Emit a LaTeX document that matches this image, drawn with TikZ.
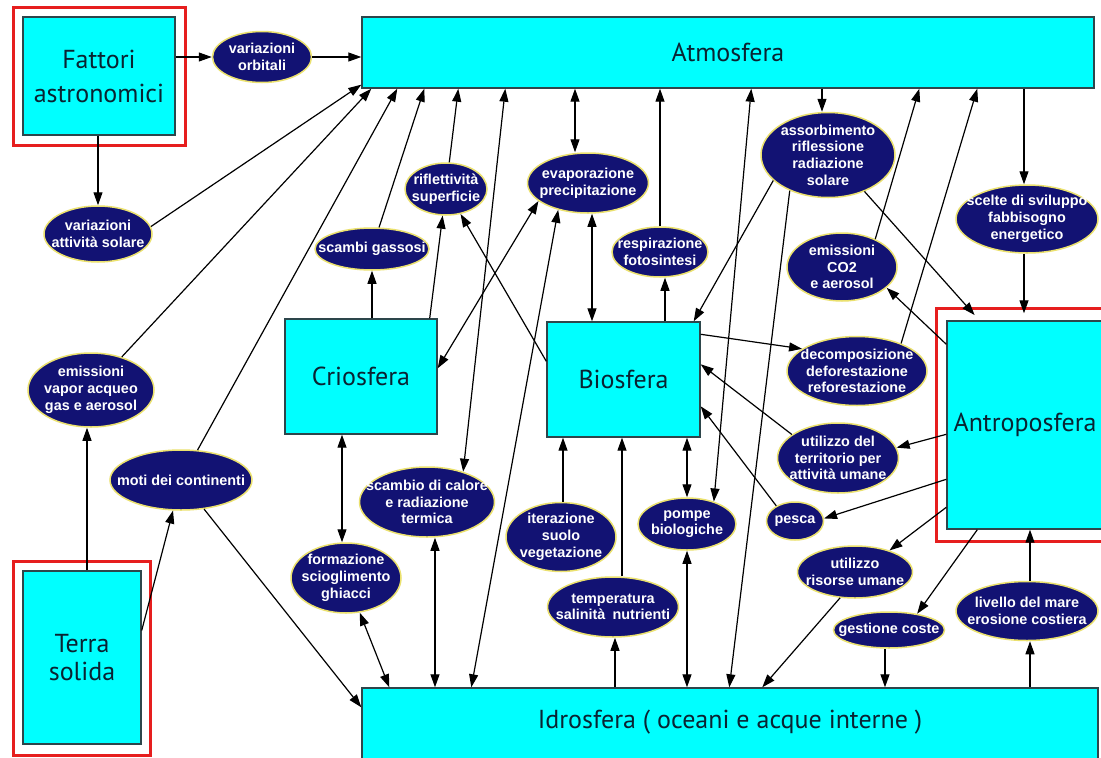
\documentclass[tikz,border=0pt]{standalone}
\usepackage{fontspec}
\setmainfont{Liberation Sans}
\newfontfamily\boxfont{PT Sans}
\usetikzlibrary{arrows.meta,shapes.geometric,calc}
\definecolor{cyanbox}{RGB}{0,255,255}
\definecolor{boxedge}{RGB}{45,70,75}
\definecolor{boxtext}{RGB}{10,35,50}
\definecolor{navyfill}{RGB}{18,18,115}
\definecolor{yel}{RGB}{235,225,110}
\definecolor{redfr}{RGB}{230,30,30}
\begin{document}
\begin{tikzpicture}[x=1pt,y=-1pt,
  sphere/.style={draw=boxedge, line width=1.4pt, fill=cyanbox, rectangle, inner sep=0pt, text=boxtext, font=\boxfont\fontsize{26}{30}\selectfont, align=center},
  redframe/.style={draw=redfr, line width=3pt, rectangle, inner sep=0pt},
  bub/.style={ellipse, draw=yel, line width=1.5pt, fill=navyfill, inner sep=0pt},
  bubtext/.style={text=white, font=\bfseries\fontsize{14.4}{16.7}\selectfont, align=center, inner sep=0pt},
  arr/.style={line width=1.2pt, -{Triangle[length=13pt,width=9pt]}},
  darr/.style={line width=1.2pt, {Triangle[length=13pt,width=9pt]}-{Triangle[length=13pt,width=9pt]}}
]
\useasboundingbox[fill=white] (0,0) rectangle (1101,758);

% red frames
\node[redframe, minimum width=172pt, minimum height=138pt] (fatR) at (99,76) {};
\node[redframe, minimum width=137pt, minimum height=194pt] (terraR) at (81.5,658) {};
\node[redframe, minimum width=178pt, minimum height=233pt] (antR) at (1025,424.5) {};

% spheres
\node[sphere, minimum width=152pt, minimum height=118pt, font=\boxfont\fontsize{26}{34}\selectfont] (fat) at (99,76) {Fattori\\astronomici};
\node[sphere, minimum width=732pt, minimum height=71pt] (atm) at (728,52.5) {Atmosfera};
\node[sphere, minimum width=152pt, minimum height=115pt] (crio) at (361,376.5) {Criosfera};
\node[sphere, minimum width=153pt, minimum height=115pt] (bio) at (623.5,379.5) {Biosfera};
\node[sphere, minimum width=156pt, minimum height=208pt] (ant) at (1025,425) {Antroposfera};
\node[sphere, minimum width=118pt, minimum height=173pt, font=\boxfont\fontsize{26}{28}\selectfont] (terra) at (82,657.5) {Terra\\solida};
\node[sphere, minimum width=736pt, minimum height=82pt,
  label={[sphere, draw=none, fill=none, yshift=7pt]center:Idrosfera ( oceani e acque interne )}] (idro) at (730,729) {};

% ellipses
\node[bub, minimum width=99pt, minimum height=51pt, label={[bubtext]center:variazioni\\orbitali}] (vo) at (262,57) {};
\node[bub, minimum width=108pt, minimum height=56pt, label={[bubtext]center:variazioni\\attività solare}] (vas) at (98,234) {};
\node[bub, minimum width=114pt, minimum height=42pt, label={[bubtext]center:scambi gassosi}] (sg) at (372,249) {};
\node[bub, minimum width=82pt, minimum height=52pt, label={[bubtext]center:riflettività\\superficie}] (rs) at (446,189) {};
\node[bub, minimum width=121pt, minimum height=60pt, label={[bubtext]center:evaporazione\\precipitazione}] (ep) at (588,183) {};
\node[bub, minimum width=96pt, minimum height=50pt, label={[bubtext]center:respirazione\\fotosintesi}] (rf) at (660,252) {};
\node[bub, minimum width=134pt, minimum height=85pt, label={[bubtext]center:assorbimento\\riflessione\\radiazione\\solare}] (ar) at (828,155) {};
\node[bub, minimum width=142pt, minimum height=68pt, label={[bubtext]center:scelte di sviluppo\\fabbisogno\\energetico}] (ss) at (1027,219) {};
\node[bub, minimum width=110pt, minimum height=68pt, label={[bubtext]center:emissioni\\CO2\\e aerosol}] (ec) at (842,267) {};
\node[bub, minimum width=140pt, minimum height=69pt, label={[bubtext]center:decomposizione\\deforestazione\\reforestazione}] (dd) at (857,371) {};
\node[bub, minimum width=121pt, minimum height=70pt, label={[bubtext]center:utilizzo del\\territorio per\\attività umane}] (ut) at (838,458) {};
\node[bub, minimum width=57pt, minimum height=38pt, label={[bubtext]center:pesca}] (pe) at (795,521) {};
\node[bub, minimum width=115pt, minimum height=52pt, label={[bubtext]center:utilizzo\\risorse umane}] (ur) at (855,572) {};
\node[bub, minimum width=111pt, minimum height=36pt, label={[bubtext]center:gestione coste}] (gc) at (889,630) {};
\node[bub, minimum width=142pt, minimum height=59pt, label={[bubtext]center:livello del mare\\erosione costiera}] (lm) at (1027,611) {};
\node[bub, minimum width=126pt, minimum height=74pt, label={[bubtext]center:emissioni\\vapor acqueo\\gas e aerosol}] (ev) at (91,390) {};
\node[bub, minimum width=142pt, minimum height=60pt, label={[bubtext]center:moti dei continenti}] (mc) at (181,480) {};
\node[bub, minimum width=135pt, minimum height=70pt, label={[bubtext]center:scambio di calore\\e radiazione\\termica}] (sc) at (427,502) {};
\node[bub, minimum width=110pt, minimum height=70pt, label={[bubtext]center:formazione\\scioglimento\\ghiacci}] (fs) at (346,578) {};
\node[bub, minimum width=110pt, minimum height=69pt, label={[bubtext]center:iterazione\\suolo\\vegetazione}] (is) at (561,537) {};
\node[bub, minimum width=131pt, minimum height=60pt, label={[bubtext]center:temperatura\\salinità\enspace nutrienti}] (ts) at (613,607) {};
\node[bub, minimum width=98pt, minimum height=52pt, label={[bubtext]center:pompe\\biologiche}] (pb) at (687,524) {};

% connectors
\draw[arr] (fat.east |- vo.west) -- (vo.west);
\draw[arr] (vo.east) -- (vo.east -| atm.west);
\draw[arr] (fat.south -| vas.north) -- (vas.north);
\draw[arr] (vas.8) -- ([yshift=4pt]atm.south west);
\draw[arr] (ev) -- ([xshift=10pt]atm.south west);
\draw[arr] (mc) -- ([xshift=36pt]atm.south west);
\draw[arr] (sg) -- ([xshift=63pt]atm.south west);
\draw[arr] (rs) -- ([xshift=97pt]atm.south west);
\draw[darr] (sc.40) -- ([xshift=144pt]atm.south west);
\draw[darr] ([xshift=-13pt]ep.north) -- ([xshift=-13pt]ep.north |- atm.south);
\draw[arr] (rf.north) -- (rf.north |- atm.south);
\draw[darr] ([xshift=390pt]atm.south west) -- (pb.40);
\draw[arr] ([xshift=-6pt]ar.north |- atm.south) -- ([xshift=-6pt]ar.north);
\draw[arr] (ec.40) -- ([xshift=558pt]atm.south west);
\draw[arr] (dd.32) -- ([xshift=616pt]atm.south west);
\draw[arr] ([xshift=-3pt]ss.north |- atm.south) -- ([xshift=-3pt]ss.north);
\draw[arr, shorten >=7pt] ([xshift=-3pt]ss.south) -- ([xshift=-3pt]ss.south |- ant.north);
\draw[arr, shorten >=7pt] (ar.315) -- ([xshift=33pt]ant.north west);
\draw[arr] (ar.205) -- ([xshift=-7pt]bio.north east);
\draw[arr] (ar.223) -- ([xshift=368pt]idro.north west);
\draw[darr] (ep.200) -- ([yshift=-50pt]crio.north east);
\draw[darr] (ep.222) -- ([xshift=110pt]idro.north west);
\draw[darr] ([xshift=4pt]ep.south) -- ([xshift=4pt]ep.south |- bio.north);
\draw[arr] ([xshift=5pt]rf.south |- bio.north) -- ([xshift=5pt]rf.south);
\draw[arr] ([xshift=-8pt]crio.north east) -- (rs);
\draw[arr] ([yshift=-40pt]bio.north west) -- (rs);
\draw[arr] (sg.south |- crio.north) -- (sg.south);
\draw[darr] ([xshift=-4pt]fs.north) -- ([xshift=-4pt]fs.north |- crio.south);
\draw[darr] (fs) -- ([xshift=28pt]idro.north west);
\draw[darr] ([xshift=8pt]sc.south) -- ([xshift=8pt]sc.south |- idro.north);
\draw[arr] ([xshift=-4pt]ev.south |- terra.north) -- ([xshift=-4pt]ev.south);
\draw[arr] ([yshift=27pt]terra.east) -- (mc);
\draw[arr] (mc) -- ([yshift=-20pt]idro.north west);
\draw[arr] ([yshift=-13pt]bio.north east) -- (dd.158);
\draw[arr] (ut.153) -- ([yshift=-43pt]bio.north east);
\draw[arr] (pe.141) -- ([yshift=-85pt]bio.north east);
\draw[arr] ([yshift=-24pt]ant.north west) -- (ec.335);
\draw[arr] ([yshift=-114pt]ant.north west) -- (ut.10);
\draw[arr] ([yshift=-159pt]ant.north west) -- (pe.5);
\draw[arr] ([yshift=-187pt]ant.north west) -- (ur.32);
\draw[arr] (ur.240) -- ([xshift=401pt]idro.north west);
\draw[arr] ([xshift=31pt]ant.south west) -- (gc.30);
\draw[arr] ([xshift=-4pt]gc.south) -- ([xshift=-4pt]gc.south |- idro.north);
\draw[arr] ([xshift=3pt]lm.south |- idro.north) -- ([xshift=3pt]lm.south);
\draw[arr] ([xshift=3pt]lm.north) -- ([xshift=3pt]lm.north |- ant.south);
\draw[darr] (pb.north |- bio.south) -- (pb.north);
\draw[darr] (pb.south) -- (pb.south |- idro.north);
\draw[arr] ([xshift=2pt]is.north) -- ([xshift=2pt]is.north |- bio.south);
\draw[arr] ([xshift=9pt]ts.north) -- ([xshift=9pt]ts.north |- bio.south);
\draw[arr] ([xshift=2pt]ts.south |- idro.north) -- ([xshift=2pt]ts.south);
\end{tikzpicture}
\end{document}
